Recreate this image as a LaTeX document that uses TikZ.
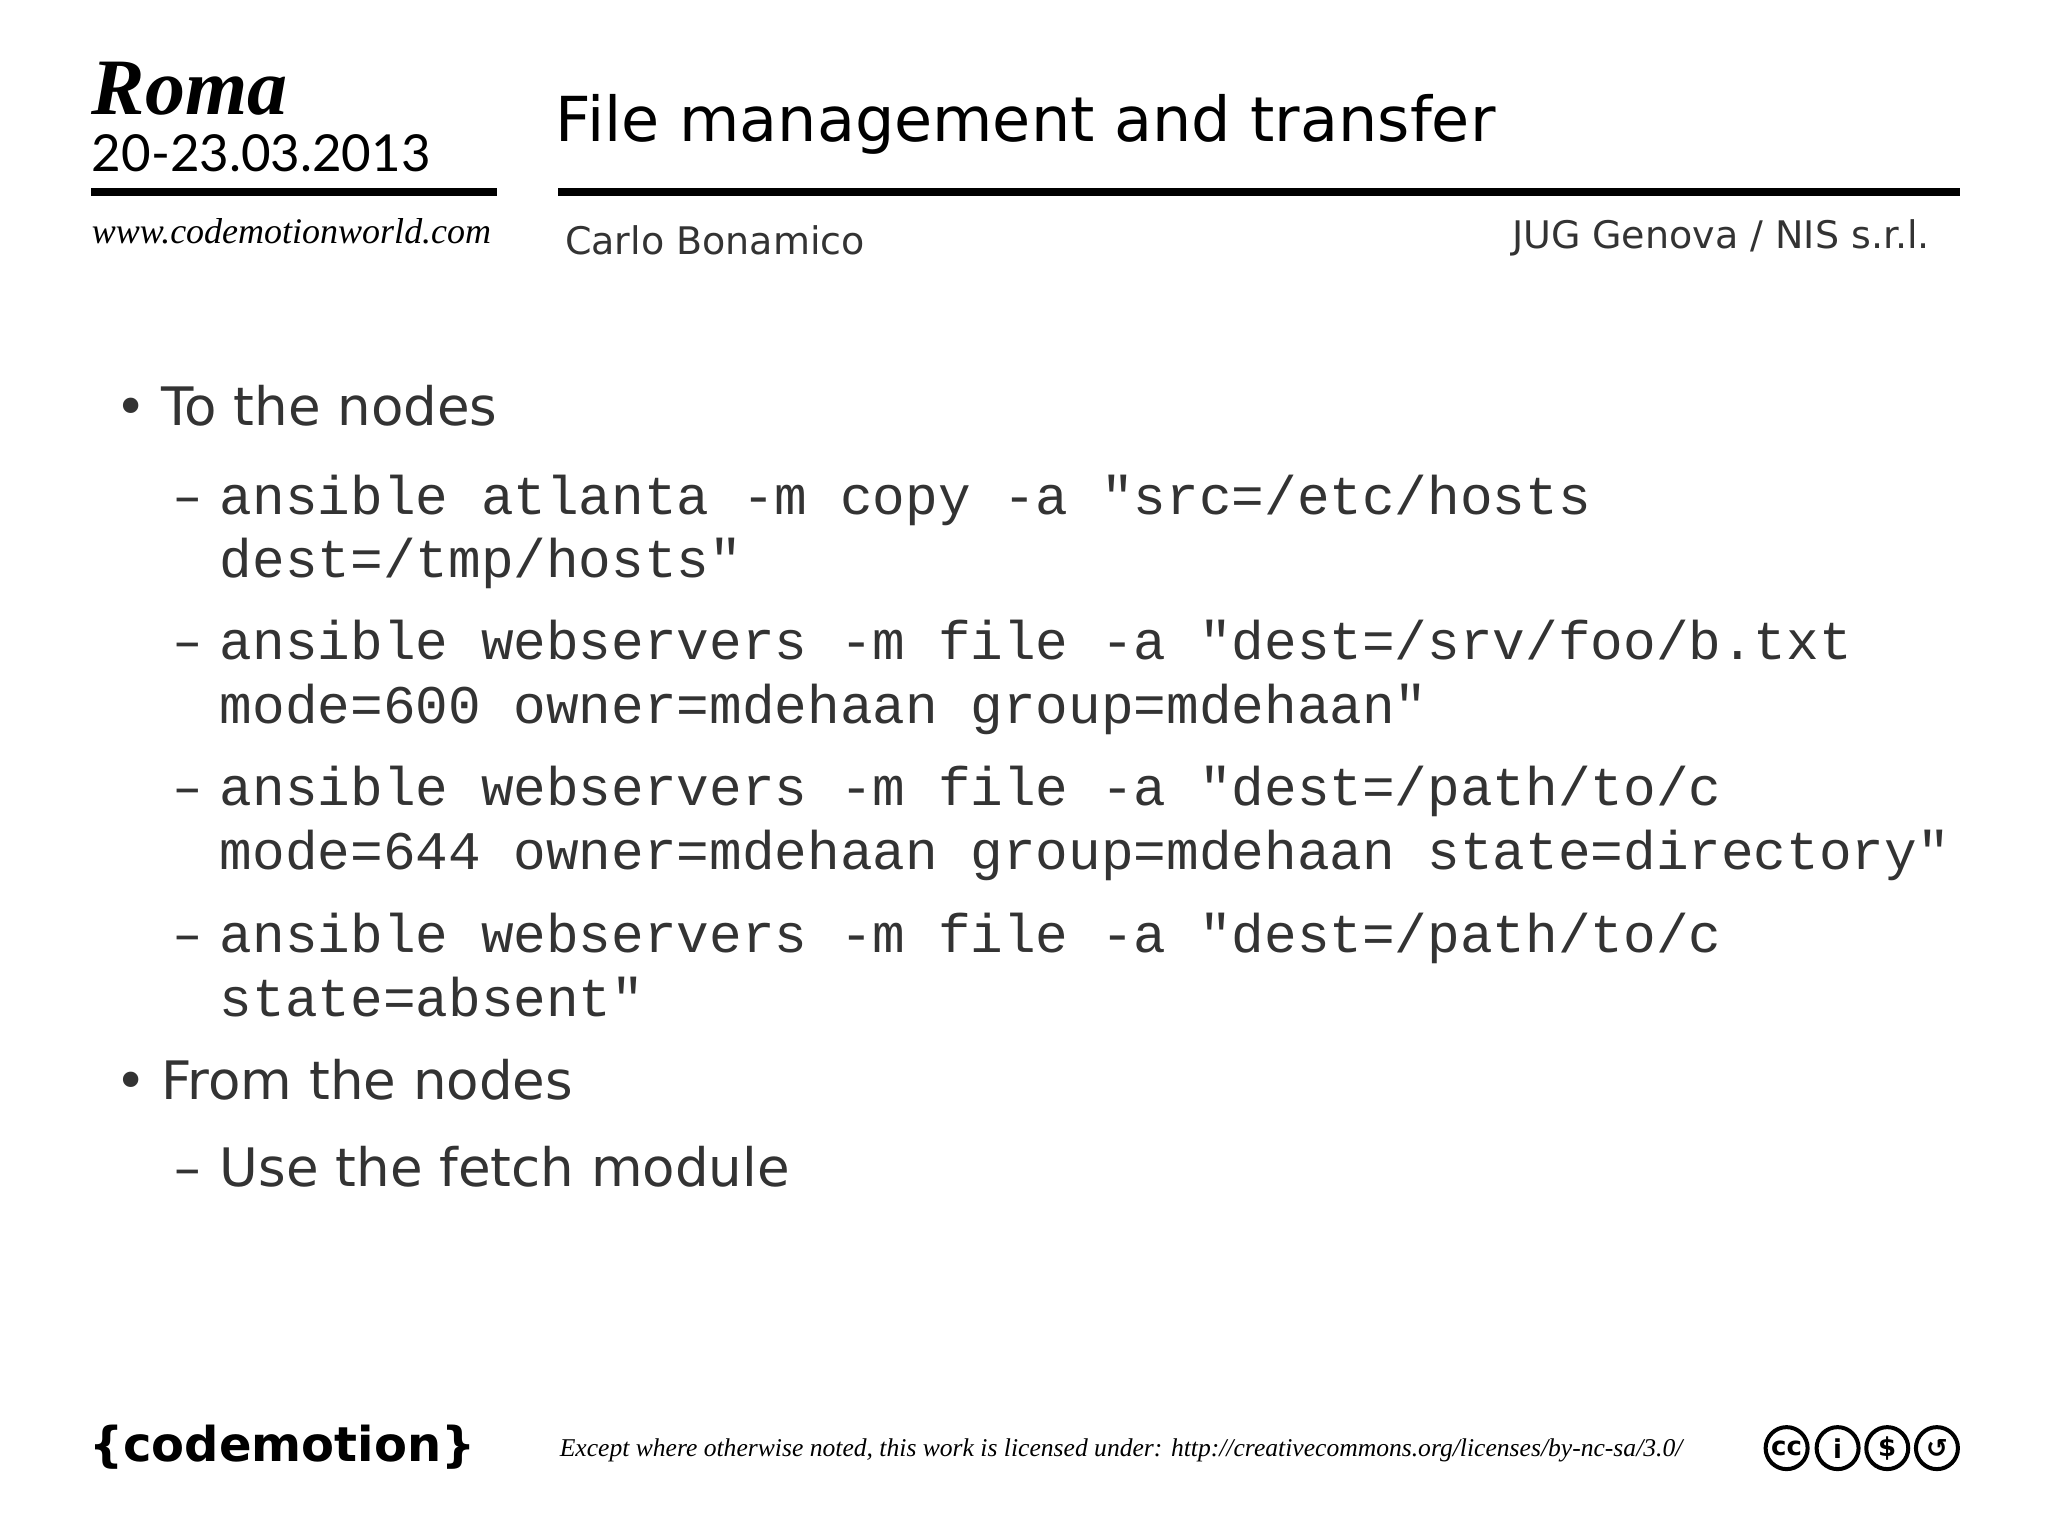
\documentclass[tikz,border=0pt]{standalone}
\usepackage{fontspec}
\setmainfont{DejaVu Sans}
\newfontfamily\monof{Liberation Mono}
\newfontfamily\serf{Liberation Serif}
\newfontfamily\latof{Lato}
\definecolor{txt}{HTML}{333333}
\begin{document}
\begin{tikzpicture}[x=0.6535pt,y=-0.6535pt,
  body/.style={anchor=west,inner sep=0pt,text=txt,text height=0.72em,text depth=0.2em,yshift=-6.3pt,font=\fontsize{26.5}{30}\selectfont},
  code/.style={anchor=west,inner sep=0pt,text=txt,text height=0.72em,text depth=0.2em,yshift=-6.3pt,font=\monof\fontsize{27.2}{30}\selectfont},
  rule/.style={line width=4pt}]
\useasboundingbox[fill=white] (0,0) rectangle (1567,1175);
\node[anchor=west,inner sep=0pt] (roma) at (70,68) {\serf\bfseries\itshape\fontsize{40}{42}\selectfont Roma};
\node[anchor=west,inner sep=0pt] (date) at (70,117) {\latof\fontsize{25.5}{28}\selectfont 20-23.03.2013};
\coordinate (l1a) at (70,147); \coordinate (l1b) at (380,147);
\draw[rule] (l1a) -- (l1b);
\node[anchor=west,inner sep=0pt] (www) at (70,177) {\serf\itshape\fontsize{18}{20}\selectfont www.codemotionworld.com};
\node[anchor=west,inner sep=0pt] (title) at (425,95) {\fontsize{31}{34}\selectfont File management and transfer};
\coordinate (l2a) at (427,147); \coordinate (l2b) at (1500,147);
\draw[rule] (l2a) -- (l2b);
\node[anchor=west,inner sep=0pt,text=txt] (auth) at (432,184) {\fontsize{19}{20}\selectfont Carlo Bonamico};
\node[anchor=east,inner sep=0pt,text=txt] (org) at (1477,182) {\fontsize{19}{20}\selectfont JUG Genova / NIS s.r.l.};
\node[body] (b1) at (88,312) {•};
\node[body] (t1) at (123,312) {To the nodes};
\foreach \y/\n in {380/d1,491/d2,603/d3,715/d4}{\node[body] (\n) at (133,\y) {–};}
\node[code] (c1a) at (168,380) {ansible atlanta -m copy -a "src=/etc/hosts};
\node[code] (c1b) at (168,428) {dest=/tmp/hosts"};
\node[code] (c2a) at (168,491) {ansible webservers -m file -a "dest=/srv/foo/b.txt};
\node[code] (c2b) at (168,540) {mode=600 owner=mdehaan group=mdehaan"};
\node[code] (c3a) at (168,603) {ansible webservers -m file -a "dest=/path/to/c};
\node[code] (c3b) at (168,652) {mode=644 owner=mdehaan group=mdehaan state=directory"};
\node[code] (c4a) at (168,715) {ansible webservers -m file -a "dest=/path/to/c};
\node[code] (c4b) at (168,764) {state=absent"};
\node[body] (b2) at (88,828) {•};
\node[body] (t2) at (123,828) {From the nodes};
\node[body] (d5) at (133,894) {–};
\node[body] (t3) at (168,894) {Use the fetch module};
\node[anchor=west,inner sep=0pt] (logo) at (68,1107) {\bfseries\fontsize{24}{26}\selectfont \{codemotion\}};
\node[anchor=west,inner sep=0pt] (lic) at (428,1110) {\serf\itshape\fontsize{12.8}{15}\selectfont Except where otherwise noted, this work is licensed under: http://creativecommons.org/licenses/by-nc-sa/3.0/};
\foreach \x/\n/\s in {1367/cc1/cc,1406/cc2/\textbf{i},1444/cc3/\textbf{\$},1482/cc4/\textbf{↺}}{
  \node[circle,draw,line width=2pt,minimum size=21pt,inner sep=0pt,font=\bfseries\fontsize{13}{14}\selectfont] (\n) at (\x,1108) {\s};}
\end{tikzpicture}
\end{document}
